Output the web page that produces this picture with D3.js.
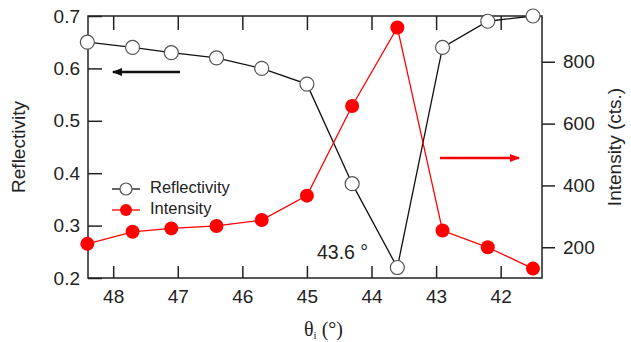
<!DOCTYPE html>
<html>
<head>
<meta charset="utf-8">
<script src="https://cdn.jsdelivr.net/npm/d3@7"></script>
<style>
  body { margin: 0; background: #fff; }
  text { font-family: "Liberation Sans", Arial, sans-serif; }
</style>
</head>
<body>
<script>
// data
var theta = [48.4, 47.7, 47.1, 46.4, 45.7, 45.0, 44.3, 43.6, 42.9, 42.2, 41.5];
var reflectivity = [0.65, 0.64, 0.63, 0.62, 0.60, 0.57, 0.38, 0.22, 0.64, 0.69, 0.70];
var intensity = [211, 250, 261, 269, 288, 367, 657, 911, 254, 200, 131];
var xTicks = [48, 47, 46, 45, 44, 43, 42];
var leftTicks = [0.2, 0.3, 0.4, 0.5, 0.6, 0.7];
var rightTicks = [200, 400, 600, 800];

var w = 631, h = 342;
var pLeft = 88, pRight = 542, pTop = 16, pBottom = 278;

var svg = d3.select("body").append("svg")
    .attr("width", w)
    .attr("height", h);

var x = d3.scaleLinear().domain([48.39, 41.36]).range([pLeft, pRight]);
var yL = d3.scaleLinear().domain([0.2, 0.7]).range([pBottom, pTop]);
var yR = d3.scaleLinear().domain([100.6, 948]).range([pBottom, pTop]);

// frame
svg.append("rect")
    .attr("x", pLeft).attr("y", pTop)
    .attr("width", pRight - pLeft).attr("height", pBottom - pTop)
    .style("fill", "none").style("stroke", "#222").style("stroke-width", 1.5);

// axes
var axisStyle = function(g) {
    g.select(".domain").remove();
    g.selectAll(".tick line").style("stroke", "#222").style("stroke-width", 1.5);
    g.selectAll(".tick text").style("font-size", "19px").style("fill", "#222")
        .style("font-family", "Liberation Sans, Arial, sans-serif");
};

svg.append("g").attr("transform", "translate(0," + pBottom + ")")
    .call(d3.axisBottom(x).tickValues(xTicks).tickFormat(d3.format("d"))
        .tickSizeInner(-12).tickPadding(12))
    .call(axisStyle);

svg.append("g").attr("transform", "translate(0," + pTop + ")")
    .call(d3.axisTop(x).tickValues(xTicks).tickFormat("").tickSizeInner(-14))
    .call(axisStyle);

svg.append("g").attr("transform", "translate(" + pLeft + ",0)")
    .call(d3.axisLeft(yL).tickValues(leftTicks).tickFormat(d3.format(".1f"))
        .tickSizeInner(-14).tickPadding(8))
    .call(axisStyle);

svg.append("g").attr("transform", "translate(" + pRight + ",0)")
    .call(d3.axisRight(yR).tickValues(rightTicks).tickSizeInner(13).tickPadding(8))
    .call(axisStyle);

// axis titles
svg.append("text")
    .attr("transform", "translate(20," + ((pTop + pBottom) / 2) + ") rotate(-90)")
    .attr("text-anchor", "middle")
    .attr("dominant-baseline", "middle")
    .style("font-size", "19px").style("fill", "#222")
    .text("Reflectivity");

svg.append("text")
    .attr("transform", "translate(616," + ((pTop + pBottom) / 2) + ") rotate(-90)")
    .attr("text-anchor", "middle")
    .attr("dominant-baseline", "middle")
    .style("font-size", "19px").style("fill", "#222")
    .text("Intensity (cts.)");

var xt = svg.append("text")
    .attr("x", 304).attr("y", 336)
    .style("font-size", "20px").style("fill", "#222")
    .style("font-family", "Liberation Serif, Times New Roman, serif");
xt.append("tspan").text("\u03b8");
xt.append("tspan").attr("dy", 3).style("font-size", "11px").text("i");
xt.append("tspan").attr("dy", -3).text(" (\u00b0)");

// lines
var pts = theta.map(function(t, i) { return { t: t, r: reflectivity[i], n: intensity[i] }; });

svg.append("path").datum(pts)
    .attr("d", d3.line().x(function(d) { return x(d.t); }).y(function(d) { return yL(d.r); }))
    .style("fill", "none").style("stroke", "#111").style("stroke-width", 1.3);

svg.append("path").datum(pts)
    .attr("d", d3.line().x(function(d) { return x(d.t); }).y(function(d) { return yR(d.n); }))
    .style("fill", "none").style("stroke", "#ff0000").style("stroke-width", 1.3);

svg.selectAll(".rdot").data(pts).enter().append("circle")
    .attr("cx", function(d) { return x(d.t); })
    .attr("cy", function(d) { return yL(d.r); })
    .attr("r", 7)
    .style("fill", "#fff").style("stroke", "#555").style("stroke-width", 1.2);

svg.selectAll(".idot").data(pts).enter().append("circle")
    .attr("cx", function(d) { return x(d.t); })
    .attr("cy", function(d) { return yR(d.n); })
    .attr("r", 7)
    .style("fill", "#ff0000");

// arrows
var defs = svg.append("defs");
[["blk", "#111"], ["red", "#ff0000"]].forEach(function(m) {
    defs.append("marker").attr("id", "ah-" + m[0])
        .attr("viewBox", "0 0 10 10").attr("refX", 9).attr("refY", 5)
        .attr("markerWidth", 5).attr("markerHeight", 4).attr("orient", "auto")
        .append("path").attr("d", "M0,1 L10,5 L0,9 Z").style("fill", m[1]);
});

svg.append("line")
    .attr("x1", 180).attr("y1", 72).attr("x2", 113).attr("y2", 72)
    .style("stroke", "#111").style("stroke-width", 2.5)
    .attr("marker-end", "url(#ah-blk)");

svg.append("line")
    .attr("x1", 440).attr("y1", 158).attr("x2", 519).attr("y2", 158)
    .style("stroke", "#ff0000").style("stroke-width", 2.5)
    .attr("marker-end", "url(#ah-red)");

// annotation
svg.append("text")
    .attr("x", 317).attr("y", 259)
    .style("font-size", "19.5px").style("fill", "#222")
    .text("43.6 \u00b0");

// legend
var legend = svg.append("g").attr("transform", "translate(112,189)");
legend.append("line").attr("x1", 0).attr("x2", 28).attr("y1", 0).attr("y2", 0)
    .style("stroke", "#111").style("stroke-width", 1.3);
legend.append("circle").attr("cx", 14).attr("cy", 0).attr("r", 6)
    .style("fill", "#fff").style("stroke", "#555").style("stroke-width", 1.2);
legend.append("text").attr("x", 38).attr("y", 0).attr("dominant-baseline", "middle")
    .style("font-size", "16.5px").style("fill", "#222").text("Reflectivity");

legend.append("line").attr("x1", 0).attr("x2", 28).attr("y1", 21).attr("y2", 21)
    .style("stroke", "#ff0000").style("stroke-width", 1.3);
legend.append("circle").attr("cx", 14).attr("cy", 21).attr("r", 6)
    .style("fill", "#ff0000");
legend.append("text").attr("x", 38).attr("y", 21).attr("dominant-baseline", "middle")
    .style("font-size", "16.5px").style("fill", "#222").text("Intensity");
</script>
</body>
</html>
